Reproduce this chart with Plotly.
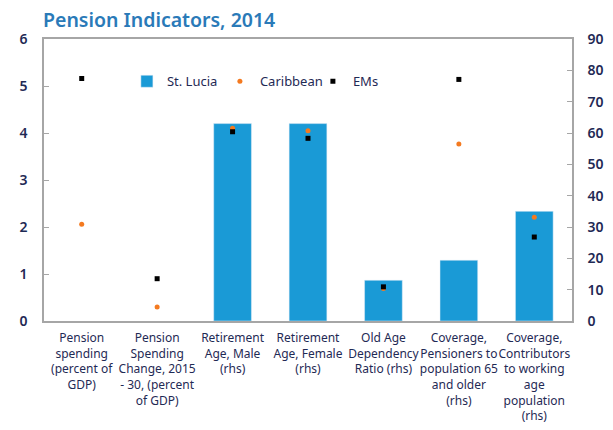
import plotly.graph_objects as go

categories = [
    "Pension<br>spending<br>(percent of<br>GDP)",
    "Pension<br>Spending<br>Change, 2015<br>- 30, (percent<br>of GDP)",
    "Retirement<br>Age, Male<br>(rhs)",
    "Retirement<br>Age, Female<br>(rhs)",
    "Old Age<br>Dependency<br>Ratio (rhs)",
    "Coverage,<br>Pensioners to<br>population 65<br>and older<br>(rhs)",
    "Coverage,<br>Contributors<br>to working<br>age<br>population<br>(rhs)",
]
# which axis each category is read on (lhs for first two, rhs for rest)
on_rhs = [False, False, True, True, True, True, True]

st_lucia = [None, None, 63, 63, 13, 19.4, 35]
caribbean = [2.06, 0.30, 61.5, 60.7, 10.4, 56.5, 33.1]
ems = [5.16, 0.90, 60.4, 58.3, 10.9, 77.1, 26.8]

left_ticks = [0, 1, 2, 3, 4, 5, 6]
right_ticks = [0, 10, 20, 30, 40, 50, 60, 70, 80, 90]

BLUE = "#1a9ad6"
ORANGE = "#f47a20"
BLACK = "#000000"
NAVY = "#1f2a55"
GRID = "#a6a6a6"

fig = go.Figure()

fig.add_trace(go.Bar(
    x=categories, y=st_lucia, name="St. Lucia", marker_color=BLUE,
    width=0.5, yaxis="y2", showlegend=True,
))

lx = [c for c, r in zip(categories, on_rhs) if not r]
rx = [c for c, r in zip(categories, on_rhs) if r]

def split(vals):
    return ([v for v, r in zip(vals, on_rhs) if not r],
            [v for v, r in zip(vals, on_rhs) if r])

cl, cr = split(caribbean)
el, er = split(ems)

fig.add_trace(go.Scatter(x=lx, y=cl, mode="markers", name="Caribbean",
                         marker=dict(color=ORANGE, size=5, symbol="circle"),
                         legendgroup="car", yaxis="y"))
fig.add_trace(go.Scatter(x=rx, y=cr, mode="markers", name="Caribbean",
                         marker=dict(color=ORANGE, size=5, symbol="circle"),
                         legendgroup="car", showlegend=False, yaxis="y2"))
fig.add_trace(go.Scatter(x=lx, y=el, mode="markers", name="EMs",
                         marker=dict(color=BLACK, size=5, symbol="square"),
                         legendgroup="em", yaxis="y"))
fig.add_trace(go.Scatter(x=rx, y=er, mode="markers", name="EMs",
                         marker=dict(color=BLACK, size=5, symbol="square"),
                         legendgroup="em", showlegend=False, yaxis="y2"))

fig.update_layout(
    width=613, height=430,
    margin=dict(l=44, r=41, t=39, b=109),
    paper_bgcolor="white", plot_bgcolor="white",
    font=dict(family="Noto Sans", color=NAVY),
    title=dict(text="Pension Indicators, 2014", x=43/613, xanchor="left",
               y=1 - 20/430, yanchor="middle",
               font=dict(family="Noto Sans", size=19.5, color="#2a7ab8", weight=600)),
    showlegend=True,
    legend=dict(orientation="h", x=0.157, y=0.85, xanchor="left", yanchor="middle",
                bgcolor="rgba(0,0,0,0)", font=dict(size=13, color=NAVY),
                itemwidth=30, entrywidth=48, entrywidthmode="pixels",
                tracegroupgap=0, traceorder="normal"),
    bargap=0.5,
    xaxis=dict(
        categoryorder="array", categoryarray=categories,
        showline=True, linecolor=GRID, linewidth=1.5, mirror=True,
        ticks="", showgrid=False, tickfont=dict(size=12, color=NAVY),
        tickangle=0, ticklabelstandoff=5, automargin=False,
    ),
    yaxis=dict(
        range=[0, 6], tickvals=left_ticks, showgrid=False, zeroline=False,
        showline=True, linecolor=GRID, linewidth=1.5,
        ticks="inside", ticklen=5, tickcolor=GRID, automargin=False,
        tickfont=dict(size=14, color=NAVY, weight=600), ticklabelstandoff=12,
    ),
    yaxis2=dict(
        range=[0, 90], tickvals=right_ticks, overlaying="y", side="right",
        showgrid=False, zeroline=False, automargin=False,
        showline=True, linecolor=GRID, linewidth=1.5,
        ticks="inside", ticklen=5, tickcolor=GRID,
        tickfont=dict(size=14, color=NAVY, weight=600), ticklabelstandoff=11,
    ),
)

fig.write_html("out.html", config={"displayModeBar": False},
               post_script="document.body.style.margin='0';")
